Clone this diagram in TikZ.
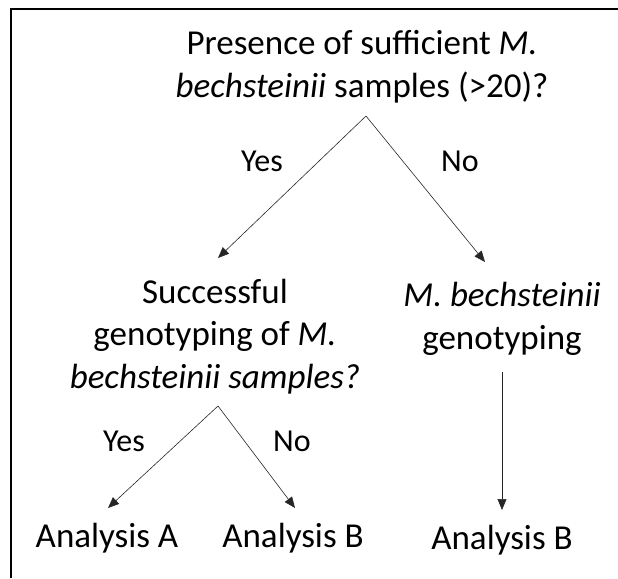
\documentclass[tikz,border=0pt]{standalone}
\usepackage{fontspec}
\setmainfont{Carlito}
\usetikzlibrary{arrows.meta,positioning}

\begin{document}
\begin{tikzpicture}[x=1pt, y=-1pt, every node/.style={font=\fontsize{35}{42.5}\selectfont, inner sep=0pt},
  lbl/.style={font=\fontsize{32}{38}\selectfont},
  arr/.style={-{Triangle[length=11pt,width=9pt]}, line width=0.6pt, draw=black!85}]
	\useasboundingbox (0,0) rectangle (618,578);
	\draw[line width=2pt] (11,578) |- (618,9);
	
	% multi-line nodes sit on the baseline of their last line
	\node[align=center, anchor=base] (presence) at (362,97) {Presence of sufficient \textit{M.}\\\textit{bechsteinii} samples (>20)?};
	\coordinate (split1) at (366,116);
	\coordinate (toSucc) at (218,258);
	\coordinate (toGeno) at (485,262);
	\draw[arr] (split1) -- (toSucc);
	\draw[arr] (split1) -- (toGeno);
	\node[lbl, anchor=base] (yes1) at (262,171) {Yes};
	\node[lbl, anchor=base] (no1) at (460,171) {No};
	
	\node[align=center, anchor=base] (success) at (215,388) {Successful\\genotyping of \textit{M.}\\\textit{bechsteinii samples?}};
	\node[align=center, anchor=base] (geno) at (502,349) {\textit{M. bechsteinii}\\genotyping};
	
	\coordinate (split2) at (218,406);
	\coordinate (toA) at (108,508);
	\coordinate (toB) at (295,508);
	\coordinate (genoEnd) at (502,372);
	\draw[arr] (split2) -- (toA);
	\draw[arr] (split2) -- (toB);
	\draw[arr] (genoEnd) -- (502,510);
	\node[lbl, anchor=base] (yes2) at (124,451) {Yes};
	\node[lbl, anchor=base] (no2) at (292,451) {No};
	
	\node[anchor=base] (anA) at (107,547) {Analysis A};
	\node[anchor=base] (anB) at (293,547) {Analysis B};
	\node[anchor=base] (anB2) at (502,549) {Analysis B};
\end{tikzpicture}
\end{document}
